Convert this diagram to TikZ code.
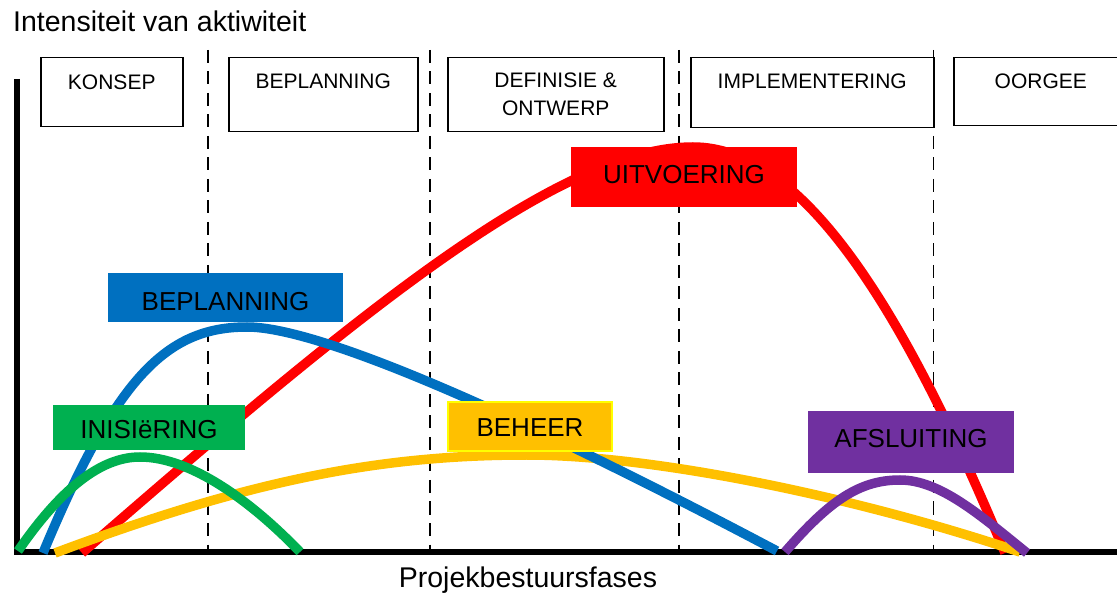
\documentclass[tikz,border=0pt]{standalone}
\usepackage{fontspec}
\setmainfont{Liberation Sans}
\definecolor{cRed}{HTML}{FF0000}
\definecolor{cBlue}{HTML}{0070C0}
\definecolor{cGreen}{HTML}{00B050}
\definecolor{cYellow}{HTML}{FFC000}
\definecolor{cYellowEdge}{HTML}{FFFF00}
\definecolor{cPurple}{HTML}{7030A0}
\begin{document}
\begin{tikzpicture}[x=1pt,y=-1pt,
  curve/.style={line width=9.5pt, line cap=butt},
  phaseline/.style={line width=1.8pt, dash pattern=on 13pt off 8.5pt},
  axisline/.style={line width=6pt},
  phasebox/.style={draw, line width=1.5pt, fill=white, anchor=north west, inner sep=0pt,
    font=\fontsize{21}{28}\selectfont, text height=15pt},
  lblbox/.style={inner sep=0pt, anchor=center, font=\fontsize{26}{31}\selectfont,
    text height=18.6pt, text depth=0pt},
  axistext/.style={inner sep=0pt, font=\fontsize{28.5}{34}\selectfont}
]
\useasboundingbox (0,0) rectangle (1117,593);

% axis titles
\node[axistext, anchor=base west] (ytitle) at (13,32) {Intensiteit van aktiwiteit};
\node[axistext, anchor=base] (xtitle) at (528,587) {Projekbestuursfases};

% phase separators
\coordinate (d1t) at (208,50);  \coordinate (d1b) at (208,552);
\coordinate (d2t) at (430,50);  \coordinate (d2b) at (430,552);
\coordinate (d3t) at (679,50);  \coordinate (d3b) at (679,552);
\coordinate (d4t) at (933.5,50); \coordinate (d4b) at (933.5,552);
\draw[phaseline] (d1t) -- (d1b);
\draw[phaseline] (d2t) -- (d2b);
\draw[phaseline] (d3t) -- (d3b);
\draw[phaseline] (d4t) -- (d4b);

% axes
\coordinate (ytop) at (17,79);
\coordinate (origin) at (17,552);
\coordinate (xend) at (1117,552);
\draw[axisline] (ytop) -- (origin) -- (xend);

% activity curves
\draw[curve, cRed] (82,553) .. controls (360,311) and (560,147) .. (693,147)
  .. controls (800,147) and (900,300) .. (1005,553);
\draw[curve, cYellow] (55,553) .. controls (250,480) and (380,455) .. (527,455)
  .. controls (650,455) and (850,495) .. (1020,552);
\draw[curve, cBlue] (43,553) .. controls (115,380) and (165,327) .. (247,327)
  .. controls (320,327) and (520,415) .. (777,551);
\draw[curve, cGreen] (18,551) .. controls (60,490) and (100,457) .. (140,457)
  .. controls (190,457) and (250,500) .. (300,552);
\draw[curve, cPurple] (785,552) .. controls (830,500) and (860,480) .. (900,480)
  .. controls (940,480) and (980,515) .. (1027,553);

% activity labels
\node[lblbox, fill=cBlue, minimum width=235pt, minimum height=49pt, text height=25.6pt]
  (lblbeplanning) at (225.5,297.5) {BEPLANNING};
\node[lblbox, fill=cRed, minimum width=226pt, minimum height=60pt, text depth=6pt]
  (lbluitvoering) at (684,177) {UITVOERING};
\node[lblbox, fill=cGreen, minimum width=192pt, minimum height=45pt, text height=21.6pt]
  (lblinisiering) at (149,427.5) {INISIëRING};
\node[lblbox, fill=cYellow, draw=cYellowEdge, line width=1.5pt, minimum width=164pt,
  minimum height=49pt, text height=20.6pt]
  (lblbeheer) at (530,426.5) {BEHEER};
\node[lblbox, fill=cPurple, minimum width=206pt, minimum height=62pt, text depth=7pt]
  (lblafsluiting) at (911,442) {AFSLUITING};

% phase boxes
\node[phasebox, minimum width=142pt, minimum height=69pt, text depth=21pt]
  (konsep) at (40,57) {KONSEP};
\node[phasebox, minimum width=189pt, minimum height=74pt, text depth=28pt]
  (beplanning) at (228,57) {BEPLANNING};
\node[phasebox, minimum width=216pt, minimum height=74pt, align=center,
  text height={}, text depth={}]
  (definisie) at (447,57) {DEFINISIE \&\\ONTWERP};
\node[phasebox, minimum width=243pt, minimum height=70pt, text depth=24pt]
  (implementering) at (690,57) {IMPLEMENTERING};
\node[phasebox, minimum width=174pt, minimum height=68pt, text depth=22pt]
  (oorgee) at (953,57) {OORGEE};
\end{tikzpicture}
\end{document}
